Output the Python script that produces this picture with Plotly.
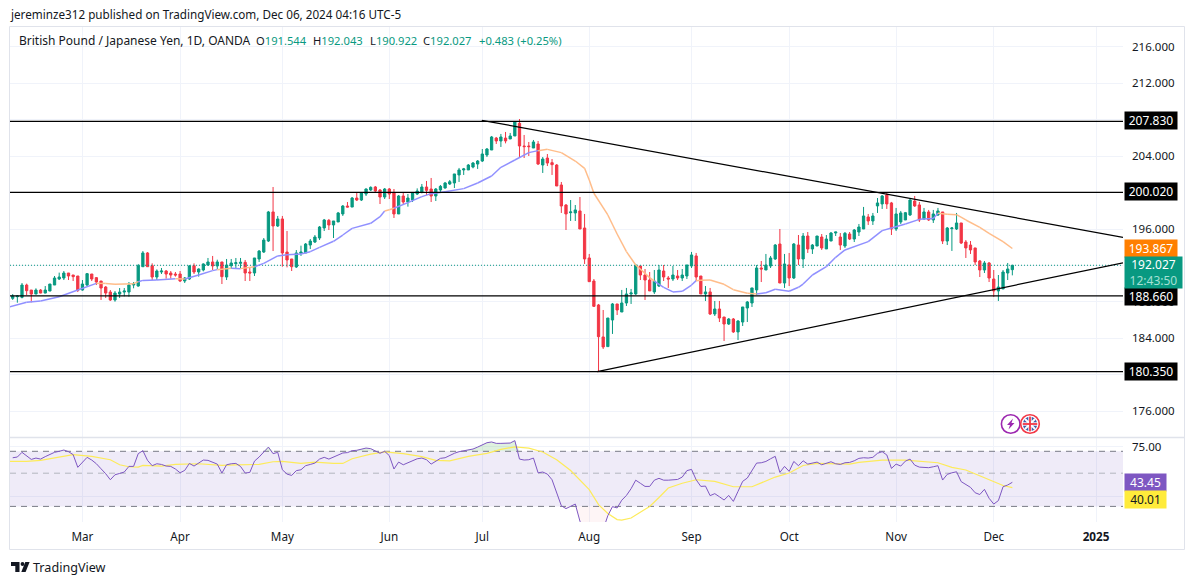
import plotly.graph_objects as go

W, H = 1195, 585

month_bars = [15, 36, 58, 81, 101, 124, 146, 167, 190, 211, 233]
month_labels = ['Mar', 'Apr', 'May', 'Jun', 'Jul', 'Aug', 'Sep', 'Oct', 'Nov', 'Dec', '<b>2025</b>']

opens = [188.40,188.58,188.51,189.86,189.31,188.87,189.31,188.98,189.20,189.86,
190.52,190.63,191.18,190.96,190.85,189.31,189.86,191.07,190.67,190.30,
189.64,189.09,188.22,188.87,189.09,189.09,189.86,189.75,191.87,193.38,
191.98,190.74,191.29,191.40,191.18,191.07,191.07,190.30,190.52,191.98,
191.29,191.51,192.06,192.39,191.95,192.39,190.74,191.98,192.20,192.24,
192.35,191.29,191.18,192.72,193.48,194.69,197.88,196.34,197.11,193.48,
192.72,191.84,193.34,193.38,194.25,194.58,195.02,196.12,196.96,196.45,
196.78,197.66,198.53,198.42,199.41,199.19,199.85,200.29,200.62,200.29,
199.52,200.40,199.96,197.66,199.63,198.97,199.19,199.85,200.07,200.62,
200.40,199.63,200.29,200.51,200.95,201.06,201.94,202.49,202.49,202.81,
203.14,203.47,204.13,204.68,205.99,205.67,205.99,205.89,206.22,207.61,
205.12,205.12,204.90,205.34,203.03,203.80,203.29,203.03,200.84,198.64,
197.80,197.77,197.99,196.12,192.83,190.30,187.67,184.16,183.10,186.02,
187.78,186.90,187.89,188.88,188.88,191.95,190.96,190.41,189.10,189.75,
191.40,190.63,190.52,190.85,190.63,190.85,191.95,193.05,190.85,188.88,
189.10,186.68,187.23,186.35,185.58,186.13,184.71,185.80,187.34,187.89,
189.32,191.73,191.51,191.95,192.72,194.36,190.08,192.06,190.63,194.25,
192.72,195.24,193.82,194.14,195.13,193.82,194.69,195.57,195.13,194.14,
195.46,194.91,195.68,196.01,197.33,196.89,198.54,198.76,199.74,198.87,
196.01,196.78,197.00,197.55,199.08,198.65,197.11,197.88,197.00,197.55,
197.88,194.69,196.05,196.01,196.67,194.58,194.25,193.93,192.50,191.51,
192.28,190.52,189.21,189.43,191.18,191.544]

highs = [188.87,188.76,190.08,190.01,189.31,189.50,189.42,189.75,189.97,190.85,
191.22,191.40,191.18,190.96,190.85,190.41,191.18,191.07,190.74,190.30,
189.75,189.31,189.20,189.53,189.53,190.19,190.19,192.17,193.59,193.48,
192.24,191.58,191.73,191.51,191.40,191.29,191.40,190.74,192.06,192.24,
191.69,192.24,192.83,193.05,192.64,192.39,192.72,192.72,192.83,192.83,
192.61,191.73,192.83,193.70,195.02,197.99,200.62,197.44,197.44,195.79,
192.72,193.70,194.18,194.47,194.91,195.35,196.34,197.11,197.11,196.89,
197.88,198.64,198.97,199.52,199.96,200.07,200.47,200.69,200.73,200.40,
200.51,200.51,200.40,199.74,199.96,199.85,200.07,200.47,200.95,201.28,
201.61,200.51,200.84,201.17,201.39,202.05,202.71,202.71,203.14,203.36,
203.58,204.79,204.90,206.22,206.11,206.44,206.66,206.55,207.86,208.08,
206.33,205.56,205.78,205.67,203.91,204.24,203.69,203.14,201.17,198.75,
199.19,198.64,199.52,197.66,193.27,190.52,187.78,187.12,186.24,187.89,
187.78,189.32,189.54,189.43,192.06,191.95,191.62,191.29,191.51,192.06,
192.06,190.85,191.95,191.51,191.62,192.06,193.49,193.38,190.85,189.75,
189.54,188.11,188.11,186.35,186.24,186.24,186.02,187.45,188.11,189.54,
192.06,192.50,193.27,193.05,194.36,196.01,193.27,193.38,194.47,195.35,
195.57,195.68,194.36,195.24,195.46,195.35,195.68,195.68,195.57,195.68,
195.68,196.01,196.56,198.43,197.66,197.77,199.41,199.74,199.96,198.98,
198.32,197.99,197.88,199.30,199.63,198.98,198.32,198.10,198.10,198.32,
197.88,196.23,196.23,197.77,196.67,194.80,194.69,193.93,192.61,192.50,
192.39,191.51,190.96,191.51,192.28,192.043]

lows = [188.22,187.92,188.40,188.76,187.96,188.87,188.95,188.95,189.20,189.86,
190.41,190.41,190.41,190.30,189.09,189.24,189.75,190.30,189.86,188.22,
188.44,188.11,188.03,188.44,188.62,188.58,189.50,189.68,191.87,191.87,
190.41,190.41,191.07,190.56,190.56,190.78,190.19,190.08,190.41,191.07,
190.78,191.36,191.95,191.51,191.62,189.97,190.41,191.62,191.69,191.69,
190.30,190.30,190.85,192.39,193.38,194.58,193.59,196.23,191.87,191.80,
191.40,191.73,193.05,193.38,193.81,194.47,194.80,195.79,195.90,195.02,
196.78,197.44,198.39,198.42,199.08,199.08,199.63,200.18,200.07,198.75,
199.30,199.30,197.22,197.66,198.75,198.46,198.97,199.74,199.92,199.74,
198.97,199.08,200.07,200.44,200.84,200.51,201.17,201.94,202.49,202.67,
202.60,203.36,203.91,204.68,205.34,205.01,205.41,205.89,206.22,203.80,
203.80,204.02,204.90,203.03,202.16,202.92,201.94,200.73,197.77,195.90,
196.89,196.89,196.01,192.17,190.23,187.45,180.30,182.84,183.10,184.49,
186.57,186.90,187.56,187.78,188.77,190.41,188.22,189.21,188.88,189.64,
190.30,189.54,190.30,190.41,190.30,190.52,191.73,190.30,188.88,188.11,
186.57,186.46,185.80,183.72,185.47,184.60,183.83,185.36,185.80,187.45,
188.77,190.19,191.51,191.73,192.61,190.08,189.54,189.75,190.52,192.06,
191.73,193.38,193.27,194.14,193.71,193.82,194.69,195.24,193.71,193.93,
194.80,194.58,195.24,196.01,196.45,196.45,197.77,198.21,198.21,195.35,
195.79,196.56,197.00,197.44,198.43,196.78,197.00,196.89,196.67,197.44,
194.36,194.25,193.60,195.90,194.36,192.83,193.27,192.06,190.74,191.18,
190.19,188.55,188.11,189.43,190.41,190.922]

closes = [188.65,188.65,189.86,189.24,188.87,189.31,188.98,189.31,189.97,190.63,
190.74,191.18,190.85,190.78,189.28,189.97,191.11,190.52,190.19,189.53,
188.98,188.22,188.98,189.09,189.20,189.86,189.97,191.98,193.38,191.87,
190.74,191.40,191.40,191.07,190.96,190.96,190.30,190.63,191.95,191.29,
191.62,192.17,192.39,191.95,192.39,190.78,192.06,192.28,192.31,192.35,
191.18,191.18,192.83,193.59,194.80,197.88,196.34,197.11,193.38,192.61,
191.87,193.38,193.48,194.36,194.69,195.13,196.23,197.00,196.45,196.89,
197.77,198.53,198.42,199.41,199.19,199.96,200.40,200.58,200.18,199.52,
200.40,199.85,197.66,199.63,198.97,199.41,199.96,200.18,200.62,200.25,
199.63,200.40,200.69,201.06,201.20,202.05,202.49,202.60,203.03,203.25,
203.47,204.24,204.79,206.11,205.67,206.11,205.67,206.22,207.75,205.12,
205.05,205.05,205.56,203.14,203.69,203.25,203.07,200.73,198.53,197.66,
197.88,198.10,196.01,192.72,190.23,187.52,184.19,183.06,186.24,187.78,
187.12,187.89,188.88,188.99,192.06,190.96,190.41,189.21,190.30,191.51,
190.74,190.52,190.96,190.63,190.96,192.06,193.16,190.74,188.88,189.10,
186.68,187.23,186.24,185.58,186.13,184.71,185.91,187.45,188.00,189.54,
191.73,191.62,192.06,192.83,194.25,190.08,192.17,190.63,194.36,192.72,
195.24,193.82,194.25,195.24,193.93,194.91,195.57,195.68,194.25,195.54,
194.91,195.90,196.23,197.44,196.89,197.44,198.87,199.63,198.76,196.01,
197.66,197.77,197.80,199.19,198.54,197.00,197.88,197.00,197.66,197.99,
194.69,196.12,196.12,196.67,194.47,193.93,193.71,192.39,191.51,192.28,
190.63,189.21,189.64,191.29,191.62,192.027]

# moving average, colour flips blue/orange with price
ma_bars = [-1,3,6,10,14,18,20,22,26,27,28,31,35,37,40,43,44,47,49,52,54,57,59,62,64,66,69,71,73,77,79,80,81,82,85,88,90,93,97,100,
103,105,108,111,113,115,118,121,123,124,125,128,130,132,134,137,138,140,142,144,146,147,148,150,153,155,158,160,162,164,167,169,170,172,175,177,179,184,187,189,
192,195,198,199,201,203,205,208,210,213,215]
ma_vals = [187.41,187.96,188.11,188.58,189.31,190.04,190.04,189.94,190.01,190.23,190.37,190.41,190.56,190.52,190.96,191.44,191.55,191.69,191.66,191.87,192.24,193.05,193.19,193.27,193.52,193.99,194.66,195.35,196.08,196.63,197.36,197.99,198.13,198.28,198.90,199.56,199.89,200.11,200.44,201.06,
201.83,202.78,203.58,204.39,204.61,204.75,204.39,203.47,202.67,201.39,199.93,197.55,195.46,193.52,192.06,190.67,190.30,189.61,189.10,189.17,189.86,190.34,190.38,190.41,189.94,189.35,188.95,188.88,189.02,189.39,189.17,189.61,189.97,190.96,191.88,192.90,193.71,194.62,195.83,196.12,
196.56,197.07,197.15,197.73,197.62,197.58,197.00,196.19,195.54,194.62,193.867]
ma_orange_runs = [(18, 27), (35, 37), (44, 47), (49, 52), (80, 82), (113, 138), (147, 160), (199, 215)]

levels = [207.83, 200.02, 188.66, 180.35]
last_price = 192.027
trend_hi_x, trend_hi_y = [100.9, 238.8], [207.94, 195.09]
trend_lo_x, trend_lo_y = [125.7, 238.8], [180.35, 192.30]

price_ticks = list(range(176, 217, 4))
# these four sit under the price boxes
hidden_ticks = [180, 192, 200, 208]

rsi = [63.4,64.1,68.9,64.8,61.8,63.1,62.1,64.5,66.5,68.9,70.0,71.4,69.6,66.5,54.7,59.3,63.8,61.2,57.8,53.5,
49.6,45.2,48.8,49.8,50.9,55.5,55.5,67.5,70.7,60.9,56.1,57.8,57.2,55.8,55.5,53.3,50.3,52.2,58.1,55.8,
58.4,61.2,60.9,59.3,57.5,50.1,56.9,57.8,58.1,55.5,50.1,50.6,60.2,64.1,69.3,74.7,67.5,68.9,52.7,49.3,
48.3,52.0,52.7,56.1,57.2,58.4,62.1,63.8,62.1,64.1,66.5,68.2,68.6,70.7,71.1,72.5,73.6,72.9,70.4,67.9,
70.0,65.5,53.3,59.3,56.9,58.7,60.5,62.4,63.1,61.5,57.5,60.5,62.8,63.4,65.8,67.9,69.6,70.4,71.8,72.5,
74.7,77.5,79.9,80.8,79.1,79.1,79.1,79.5,82.5,62.1,61.2,61.5,63.1,50.3,50.9,49.3,45.2,36.9,30.3,29.0,
29.9,31.1,23.9,20.0,18.0,16.0,15.0,21.0,26.0,29.9,29.3,33.0,35.5,39.4,44.9,42.8,40.8,40.8,44.9,46.2,
44.9,44.9,45.4,45.4,47.1,52.0,53.0,45.2,40.8,41.0,35.4,36.5,34.8,33.1,35.5,32.4,37.8,44.1,46.4,52.2,
58.4,58.7,59.9,62.4,64.8,50.6,55.5,51.4,59.9,56.1,60.5,57.5,58.4,59.3,56.9,58.4,59.6,57.8,57.2,58.7,
59.0,60.5,62.8,63.4,63.1,63.8,67.9,69.6,66.2,53.8,57.5,55.8,60.2,62.1,56.6,54.9,54.7,54.4,55.2,56.1,
45.0,49.1,50.3,51.1,43.9,42.1,40.2,37.0,36.0,39.0,34.0,31.1,32.8,40.6,41.7,43.45]

rsi_ma_bars = [-1,3,6,9,11,13,17,21,23,25,27,28,32,35,40,45,48,53,56,58,62,65,69,71,73,77,80,84,88,91,94,98,102,105,108,111,114,117,120,122,
124,126,128,130,131,133,137,139,141,144,147,151,155,159,162,164,167,170,173,177,180,182,187,192,199,202,205,209,213,215]
rsi_ma_vals = [59.9,59.9,60.9,63.1,65.2,66.5,64.8,61.5,56.9,55.2,54.9,56.3,55.8,57.2,57.8,56.3,56.9,57.2,59.6,59.9,58.1,59.3,58.1,58.1,62.4,67.0,69.3,67.5,64.5,60.9,60.5,64.8,67.9,72.2,75.0,73.6,69.3,61.5,52.1,44.6,
38.8,30.8,26.9,24.5,24.3,25.1,30.0,34.4,39.8,42.8,45.2,44.1,40.6,40.6,44.1,47.1,50.1,56.3,58.1,57.5,57.5,59.0,61.2,61.2,58.7,54.7,52.5,46.6,41.4,40.01]

GREEN, RED = '#089981', '#f23645'
GRID = '#f0f3fa'
FRAME = '#e0e3eb'
TEXT = '#131722'
FONT = 'Noto Sans'

bars = list(range(len(closes)))
left, right = -0.58, 238.8


def px(x):
    return x / W


def py(y):
    return 1 - y / H


fig = go.Figure()

# main pane
fig.add_trace(go.Scatter(x=[left, right], y=[last_price, last_price], mode='lines',
                         line=dict(color=GREEN, width=1, dash='1px,2px')))
fig.add_trace(go.Candlestick(x=bars, open=opens, high=highs, low=lows, close=closes,
                             increasing=dict(line=dict(color=GREEN, width=1), fillcolor=GREEN),
                             decreasing=dict(line=dict(color=RED, width=1), fillcolor=RED),
                             whiskerwidth=0))

ma_blue_x, ma_blue_y, ma_orange_x, ma_orange_y = [], [], [], []
for k in range(len(ma_bars) - 1):
    a, b = ma_bars[k], ma_bars[k + 1]
    if any(s <= a and b <= e for s, e in ma_orange_runs):
        ma_orange_x += [a, b, None]
        ma_orange_y += [ma_vals[k], ma_vals[k + 1], None]
    else:
        ma_blue_x += [a, b, None]
        ma_blue_y += [ma_vals[k], ma_vals[k + 1], None]
fig.add_trace(go.Scatter(x=ma_blue_x, y=ma_blue_y, mode='lines', line=dict(color='#9090ff', width=1.5)))
fig.add_trace(go.Scatter(x=ma_orange_x, y=ma_orange_y, mode='lines', line=dict(color='#ffbd8a', width=1.5)))

for lv in levels:
    fig.add_trace(go.Scatter(x=[left, right], y=[lv, lv], mode='lines', line=dict(color='black', width=1.2)))
fig.add_trace(go.Scatter(x=trend_hi_x, y=trend_hi_y, mode='lines', line=dict(color='black', width=1.2)))
fig.add_trace(go.Scatter(x=trend_lo_x, y=trend_lo_y, mode='lines', line=dict(color='black', width=1.2)))

# rsi pane
edge = [left, right]
fig.add_trace(go.Scatter(x=edge, y=[30, 30], mode='lines', line=dict(width=0), xaxis='x2', yaxis='y2'))
fig.add_trace(go.Scatter(x=edge, y=[70, 70], mode='lines', line=dict(width=0), fill='tonexty',
                         fillcolor='rgba(126,87,194,0.12)', xaxis='x2', yaxis='y2'))
fig.add_trace(go.Scatter(x=bars, y=[70] * len(bars), mode='lines', line=dict(width=0), xaxis='x2', yaxis='y2'))
fig.add_trace(go.Scatter(x=bars, y=[max(v, 70) for v in rsi], mode='lines', line=dict(width=0), fill='tonexty',
                         fillcolor='rgba(76,175,80,0.18)', xaxis='x2', yaxis='y2'))
fig.add_trace(go.Scatter(x=bars, y=[30] * len(bars), mode='lines', line=dict(width=0), xaxis='x2', yaxis='y2'))
fig.add_trace(go.Scatter(x=bars, y=[min(v, 30) for v in rsi], mode='lines', line=dict(width=0), fill='tonexty',
                         fillcolor='rgba(242,54,69,0.05)', xaxis='x2', yaxis='y2'))
for band, col in [(70, '#787b86'), (50, '#b2b5be'), (30, '#787b86')]:
    fig.add_trace(go.Scatter(x=edge, y=[band, band], mode='lines', xaxis='x2', yaxis='y2',
                             line=dict(color=col, width=1, dash='6px,5px')))
fig.add_trace(go.Scatter(x=rsi_ma_bars, y=rsi_ma_vals, mode='lines', xaxis='x2', yaxis='y2',
                         line=dict(color='#fdeb5a', width=1.2)))
fig.add_trace(go.Scatter(x=bars, y=rsi, mode='lines', xaxis='x2', yaxis='y2',
                         line=dict(color='#7e57c2', width=1)))

shapes = [
    dict(type='rect', xref='paper', yref='paper', x0=px(9.5), x1=px(1184.5), y0=py(549.5), y1=py(26.5),
         line=dict(color=FRAME, width=1)),
    dict(type='line', xref='paper', yref='paper', x0=px(9.5), x1=px(1184.5), y0=py(437.5), y1=py(437.5),
         line=dict(color=FRAME, width=1.5)),
]


def circle(cx, cy, r, **kw):
    return dict(type='circle', xref='paper', yref='paper', x0=px(cx - r), x1=px(cx + r),
                y0=py(cy + r), y1=py(cy - r), **kw)


def seg(x0, y0, x1, y1, col, w):
    return dict(type='line', xref='paper', yref='paper', x0=px(x0), y0=py(y0), x1=px(x1), y1=py(y1),
                line=dict(color=col, width=w))


def path(pts, col):
    d = 'M' + ' L'.join(f'{px(x):.5f},{py(y):.5f}' for x, y in pts) + ' Z'
    return dict(type='path', xref='paper', yref='paper', path=d, fillcolor=col, line=dict(width=0))


# news / flag badges
shapes.append(circle(1010.7, 424, 9.3, line=dict(color='#9c27b0', width=1.6), fillcolor='white'))
shapes.append(path([(1013, 418.5), (1007, 425), (1010, 425), (1008.5, 429.5), (1014.5, 423), (1011.5, 423)], '#9c27b0'))
shapes.append(circle(1030, 424, 9.3, line=dict(color=RED, width=1.6), fillcolor='white'))
shapes.append(circle(1030, 424, 7.2, line=dict(width=0), fillcolor='#3f5ba9'))
shapes.append(seg(1025, 419, 1035, 429, 'white', 2))
shapes.append(seg(1025, 429, 1035, 419, 'white', 2))
shapes.append(seg(1022.8, 424, 1037.2, 424, 'white', 3.4))
shapes.append(seg(1030, 416.8, 1030, 431.2, 'white', 3.4))
shapes.append(seg(1022.8, 424, 1037.2, 424, RED, 1.8))
shapes.append(seg(1030, 416.8, 1030, 431.2, RED, 1.8))

# logo
shapes.append(path([(11, 562), (19.5, 562), (19.5, 572), (15.3, 572), (15.3, 566), (11, 566)], TEXT))
shapes.append(circle(22.5, 564, 1.9, line=dict(width=0), fillcolor=TEXT))
shapes.append(path([(25.3, 562), (29.6, 562), (25.6, 572), (21.3, 572)], TEXT))


def note(text, x, y, color=TEXT, size=12, anchor='left', **kw):
    return dict(text=text, xref='paper', yref='paper', x=px(x), y=py(y), xanchor=anchor, yanchor='middle',
                showarrow=False, font=dict(family=FONT, size=size, color=color), **kw)


def box(text, y0, y1, fill, color='white', x0=1124, x1=1176):
    return dict(text=text, xref='paper', yref='paper', x=px(x0), y=py((y0 + y1) / 2), xanchor='left',
                yanchor='middle', showarrow=False, bgcolor=fill, width=x1 - x0, height=y1 - y0, borderpad=0,
                align='center', valign='middle', font=dict(family=FONT, size=12, color=color))


def ohlc(letter, value, x):
    return note(f'{letter}<span style="color:{GREEN}">{value}</span>', x, 41, size=11.2)


annotations = [
    note('jereminze312 published on TradingView.com, Dec 06, 2024 04:16 UTC-5', 8, 14, size=11.7),
    note('British Pound / Japanese Yen, 1D, OANDA', 16.5, 41),
    ohlc('O', '191.544', 253.5),
    ohlc('H', '192.043', 311.5),
    ohlc('L', '190.922', 367.5),
    ohlc('C', '192.027', 421),
    note('+0.483 (+0.25%)', 476.5, 41, color=GREEN, size=11.2),
    note('TradingView', 31, 567, size=12.6),
    box('207.830', 112.5, 129.5, 'black'),
    box('200.020', 183.5, 200.5, 'black'),
    box('188.660', 288, 305, 'black'),
    box('180.350', 362.5, 379.5, 'black'),
    box('193.867', 240, 257, '#ff7f00'),
    box('192.027<br><span style="color:#a5e0d4">12:43:50</span>', 257, 288, GREEN, x1=1181),
    box('43.45', 474, 491, '#7e57c2', x1=1165),
    box('40.01', 491, 508, '#ffeb3b', color=TEXT, x1=1165),
]

fig.update_layout(
    width=W, height=H, autosize=False, showlegend=False, margin=dict(l=0, r=0, t=0, b=0),
    paper_bgcolor='white', plot_bgcolor='white', hovermode=False, boxgap=0.3,
    shapes=shapes, annotations=annotations,
    font=dict(family=FONT, size=12, color=TEXT),
    xaxis=dict(domain=[px(10), px(1123)], range=[left, right], anchor='y', rangeslider=dict(visible=False),
               tickvals=month_bars, ticktext=[''] * len(month_bars), showline=False, zeroline=False,
               showgrid=True, gridcolor=GRID, ticks=''),
    xaxis2=dict(domain=[px(10), px(1123)], range=[left, right], anchor='y2', matches='x',
                tickvals=month_bars, ticktext=month_labels, showline=False, zeroline=False,
                showgrid=True, gridcolor=GRID, ticks='', ticklabelstandoff=6,
                tickfont=dict(family=FONT, size=11.7, color=TEXT)),
    yaxis=dict(domain=[py(437), py(27)], range=[173.18, 218.18], side='right', anchor='x',
               tickvals=price_ticks,
               ticktext=['' if t in hidden_ticks else f'{t}.000' for t in price_ticks],
               showline=False, zeroline=False,
               showgrid=True, gridcolor=GRID, ticks='', ticklabelstandoff=8,
               tickfont=dict(family=FONT, size=11.5, color=TEXT)),
    yaxis2=dict(domain=[py(522), py(438)], type='log', range=[1.3729, 1.934], side='right', anchor='x2',
                tickvals=[75, 35], ticktext=['75.00', ''], showline=False, zeroline=False,
                showgrid=True, gridcolor=GRID, ticks='', ticklabelstandoff=8,
                tickfont=dict(family=FONT, size=11.5, color=TEXT)),
)

fig.write_html('out.html', config=dict(displayModeBar=False), post_script="document.body.style.margin='0';")
